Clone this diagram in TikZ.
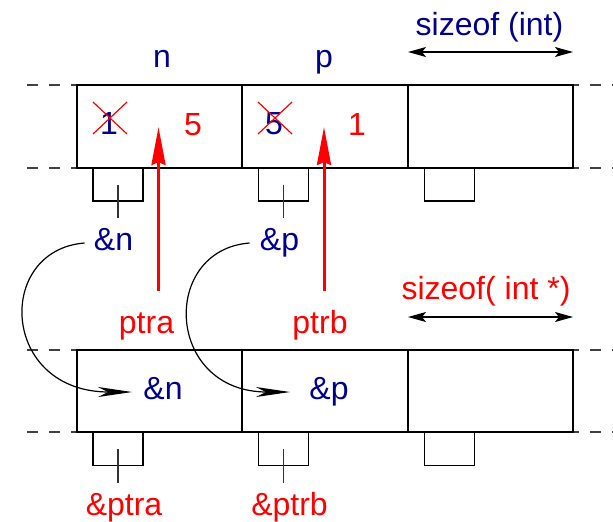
\documentclass[tikz,border=0pt]{standalone}
\usepackage{fontspec}
\setmainfont{Liberation Sans}
\usetikzlibrary{arrows.meta}
\definecolor{navy}{RGB}{0,0,140}
\definecolor{pred}{RGB}{255,0,0}
\begin{document}
\begin{tikzpicture}[x=0.5pt,y=-0.5pt,
  memline/.style={line width=0.65pt,black},
  dashline/.style={line width=0.65pt,black!75,dash pattern=on 5.5pt off 5.5pt},
  lbl/.style={font=\fontsize{16}{19}\selectfont,inner sep=0pt,anchor=base},
  blu/.style={lbl,text=navy},
  rd/.style={lbl,text=pred},
  sbox/.style={draw,line width=0.65pt,minimum width=25pt,minimum height=16.5pt,inner sep=0pt},
  tick/.style={line width=0.65pt,black!80},
  cross/.style={line width=0.6pt,pred},
  redarrow/.style={line width=1.5pt,pred,-{Stealth[length=19pt,width=7pt,inset=1.5pt]}},
  curvearrow/.style={line width=0.6pt,black,-{Stealth[length=17pt,width=5pt,inset=5pt]}},
  sizearrow/.style={line width=0.6pt,black,{Stealth[length=9pt,width=5pt,inset=2pt]}-{Stealth[length=9pt,width=5pt,inset=2pt]}}]
\useasboundingbox (0,0) rectangle (613,521);
% ---------- upper memory ----------
\draw[dashline] (27,85) -- (77,85);
\draw[dashline] (27,168) -- (77,168);
\draw[dashline,dash phase=2.5pt] (573,85) -- (613,85);
\draw[dashline,dash phase=2.5pt] (573,168) -- (613,168);
\draw[memline] (77,85) rectangle (242,168);
\draw[memline] (242,85) rectangle (408,168);
\draw[memline] (408,85) rectangle (573,168);
\node[sbox] (sa) at (118,184.5) {};
\node[sbox] (sb) at (283.5,184.5) {};
\node[sbox] (sc) at (449.5,184.5) {};
% ---------- lower memory ----------
\draw[dashline] (27,350) -- (77,350);
\draw[dashline] (27,432) -- (77,432);
\draw[dashline,dash phase=2.5pt] (573,350) -- (613,350);
\draw[dashline,dash phase=2.5pt] (573,432) -- (613,432);
\draw[memline] (77,350) rectangle (242,432);
\draw[memline] (242,350) rectangle (408,432);
\draw[memline] (408,350) rectangle (573,432);
\node[sbox] (la) at (118,449) {};
\node[sbox] (lb) at (283.5,449) {};
\node[sbox] (lc) at (449.5,449) {};
% ---------- labels ----------
\node[blu] (nlab) at (162,67) {n};
\node[blu] (plab) at (324,67) {p};
\node[blu] (szint) at (489.5,35) {sizeof (int)};
\node[blu] (v1) at (109,134) {1};
\node[rd] (v5) at (193,135) {5};
\node[blu] (w5) at (274,134) {5};
\node[rd] (w1) at (357,135) {1};
\draw[cross] (93,102) -- (127,134);
\draw[cross] (93,134) -- (127,102);
\draw[cross] (258,102) -- (292,134);
\draw[cross] (258,134) -- (292,102);
\node[blu] (an) at (113.5,250) {\&n};
\node[blu] (ap) at (279.5,250) {\&p};
\node[rd] (ptra) at (146.5,333) {ptra};
\node[rd] (ptrb) at (320,333) {ptrb};
\node[rd] (szptr) at (486,299) {sizeof( int *)};
\node[blu] (bn) at (163,399) {\&n};
\node[blu] (bp) at (329,399) {\&p};
\node[rd] (aptra) at (124,515) {\&ptra};
\node[rd] (aptrb) at (289.5,515) {\&ptrb};
% ---------- ticks ----------
\draw[tick] (sa.center) -- ++(0,33);
\draw[tick] (sb.center) -- ++(0,33);
\draw[tick] (la.center) -- ++(0,34);
\draw[tick] (lb.center) -- ++(0,34);
% ---------- red pointer arrows ----------
\coordinate (ra0) at (158.5,291);
\coordinate (ra1) at (158.5,127);
\coordinate (rb0) at (324,291);
\coordinate (rb1) at (324,127);
\draw[redarrow] (ra0) -- (ra1);
\draw[redarrow] (rb0) -- (rb1);
% ---------- size arrows ----------
\coordinate (s1l) at (408,52);
\coordinate (s1r) at (573,52);
\coordinate (s2l) at (408,317);
\coordinate (s2r) at (573,317);
\draw[sizearrow] (s1l) -- (s1r);
\draw[sizearrow] (s2l) -- (s2r);
% ---------- curved arrows ----------
\draw[curvearrow] ([xshift=-4.5pt,yshift=3.5pt]an.base west) .. controls (-5,250) and (0,392) .. ([xshift=-5.5pt,yshift=3.5pt]bn.base west);
\draw[curvearrow] ([xshift=-5pt,yshift=3.5pt]ap.base west) .. controls (160,250) and (165,392) .. ([xshift=-9.5pt,yshift=3.5pt]bp.base west);
\end{tikzpicture}
\end{document}
